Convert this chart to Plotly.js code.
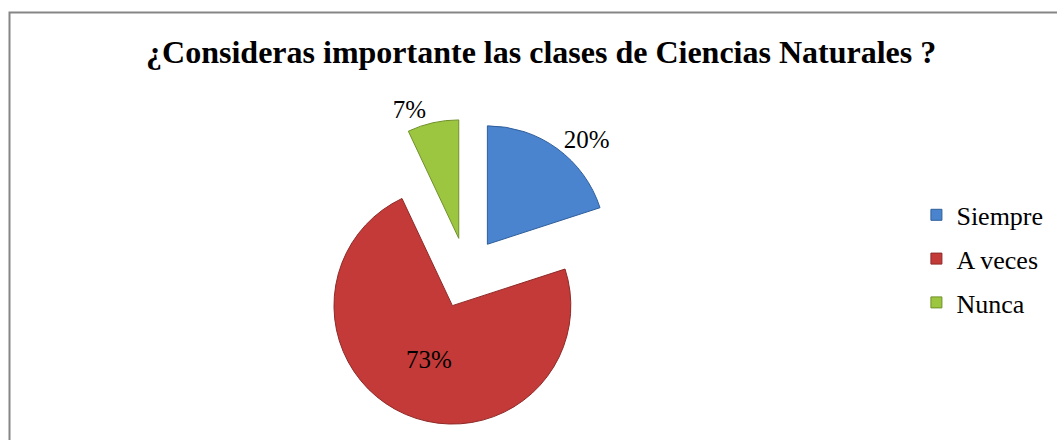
<!DOCTYPE html>
<html>
<head>
<meta charset="utf-8">
<script src="https://cdn.plot.ly/plotly-3.0.1.min.js"></script>
<style>html,body{margin:0;padding:0;background:#fff;}#chart{width:1057px;height:440px;}</style>
</head>
<body>
<div id="chart"></div>
<script>
const categories = ['Siempre', 'A veces', 'Nunca'];
const values = [20, 73, 7];
const chartTitle = '¿Consideras importante las clases de Ciencias Naturales ?';

const fillColors = ['#4A84CF', '#C33A38', '#9CC63F'];
const lineColors = ['#2F5E9A', '#8E2A28', '#6F9129'];
const textPositions = ['outside', 'inside', 'outside'];
const serif = 'Liberation Serif, Times New Roman, serif';

const pieTrace = {
  type: 'pie',
  labels: categories,
  values: values,
  sort: false,
  direction: 'clockwise',
  rotation: 0,
  pull: [0.3, 0.3, 0.3],
  texttemplate: '%{percent:.0%}',
  textposition: textPositions,
  textfont: {family: serif, size: 25, color: '#000'},
  insidetextorientation: 'horizontal',
  marker: {colors: fillColors, line: {color: lineColors, width: 1}},
  domain: {x: [0.2957, 0.587], y: [0.0295, 0.7295]},
  showlegend: false,
  hoverinfo: 'label+percent'
};

const legendTraces = categories.map((c, i) => ({
  type: 'scatter',
  mode: 'markers',
  x: [null], y: [null],
  name: c,
  legendgroup: 'g' + i,
  marker: {symbol: 'square', size: 11, color: fillColors[i], line: {color: lineColors[i], width: 1}},
  showlegend: true,
  hoverinfo: 'skip'
}));

const layout = {
  width: 1057, height: 440,
  margin: {l: 0, r: 0, t: 0, b: 0},
  paper_bgcolor: '#fff', plot_bgcolor: '#fff',
  font: {family: serif, color: '#000'},
  title: {
    text: '<b>' + chartTitle + '</b>',
    font: {family: serif, size: 32, color: '#000'},
    x: 0.512, xanchor: 'center', xref: 'paper',
    y: 0.882, yanchor: 'middle', yref: 'container'
  },
  xaxis: {visible: false}, yaxis: {visible: false},
  showlegend: true,
  legend: {
    x: 0.867, xanchor: 'left', y: 0.565, yanchor: 'top',
    font: {family: serif, size: 26, color: '#000'},
    tracegroupgap: 7, itemwidth: 30, bgcolor: 'rgba(0,0,0,0)'
  },
  shapes: [{
    type: 'rect', xref: 'paper', yref: 'paper',
    x0: 9.5/1057, x1: 1.05, y0: -0.05, y1: 1 - 12.5/440,
    line: {color: '#868686', width: 2}, fillcolor: 'rgba(0,0,0,0)', layer: 'below'
  }]
};

Plotly.newPlot('chart', [pieTrace].concat(legendTraces), layout, {displayModeBar: false, staticPlot: true});
</script>
</body>
</html>
